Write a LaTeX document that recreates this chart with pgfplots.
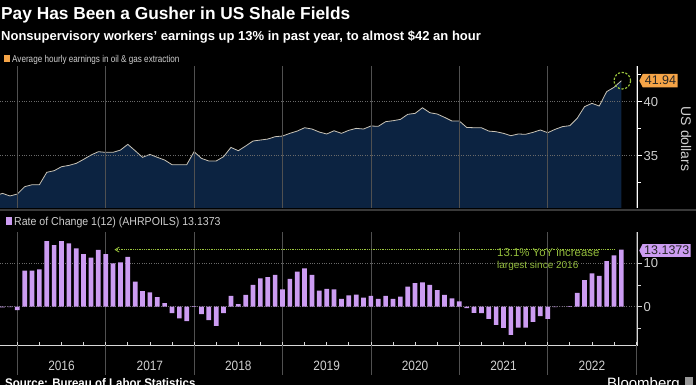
\documentclass[border=0pt]{standalone}
\usepackage{pgfplots}
\pgfplotsset{compat=1.18}
\usepackage{pgfplotstable}
\usepackage{fontspec}
\usetikzlibrary{arrows.meta}
\setmainfont{Liberation Sans}
\newfontfamily\condfont{Liberation Sans}[FakeStretch=0.92]
\newfontfamily\legfont{Liberation Sans}[FakeStretch=0.82]
\newfontfamily\yearfont{Liberation Sans}[FakeStretch=0.88]
\definecolor{navyfill}{HTML}{0C2341}
\definecolor{lineclr}{HTML}{C9C3B6}
\definecolor{barclr}{HTML}{CC9CF2}
\definecolor{orangeb}{HTML}{F5A447}
\definecolor{greenA}{HTML}{9BC53D}
\definecolor{greenT}{HTML}{93BC3C}
\definecolor{gridc}{HTML}{505050}
\definecolor{gridd}{HTML}{6A6A6A}
\definecolor{axc}{HTML}{D8D8D8}
\definecolor{txtc}{HTML}{CFCFCF}

\pgfplotstableread{
m v
-3 31.30
-2 31.51
-1 31.27
0 31.45
1 32.13
2 32.31
3 32.31
4 33.46
5 33.61
6 33.98
7 34.10
8 34.29
9 34.66
10 35.06
11 35.37
12 35.31
13 35.31
14 35.52
15 36.05
16 35.46
17 34.85
18 35.12
19 34.85
20 34.60
21 34.17
22 34.17
23 34.17
24 35.37
25 34.75
26 34.51
27 34.51
28 34.91
29 35.77
30 35.46
31 35.90
32 36.36
33 36.45
34 36.54
35 36.76
36 36.82
37 37.07
38 37.28
39 37.59
40 37.47
41 37.19
42 37.01
43 37.31
44 37.07
45 37.35
46 37.53
47 37.47
48 37.75
49 37.72
50 38.15
51 38.24
52 38.36
53 38.83
54 38.92
55 39.44
56 38.98
57 38.86
58 38.55
59 38.21
60 38.21
61 37.62
62 37.59
63 37.59
64 37.28
65 37.22
66 37.07
67 36.85
68 37.01
69 36.98
70 37.16
71 37.38
72 37.13
73 37.44
74 37.69
75 37.78
76 38.46
77 39.54
78 39.85
79 39.60
80 40.93
81 41.33
82 41.94
}\earnings

\pgfplotstableread{
m v
-2 -0.15
-1 -0.12
0 -0.8
1 8.3
2 8.3
3 8.6
4 15.1
5 14.2
6 15.1
7 14.6
8 13.4
9 12.1
10 11.3
11 13.1
12 12.1
13 10.0
14 10.2
15 11.5
16 5.8
17 3.6
18 3.3
19 2.2
20 0.8
21 -1.5
22 -2.7
23 -3.3
24 0.12
25 -1.7
26 -3.1
27 -4.4
28 -1.5
29 2.5
30 0.6
31 2.7
32 5.0
33 6.5
34 6.8
35 7.3
36 4.0
37 6.4
38 8.1
39 8.8
40 7.3
41 3.7
42 4.1
43 4.0
44 1.8
45 2.6
46 2.8
47 2.1
48 2.5
49 1.8
50 2.5
51 1.8
52 2.3
53 4.6
54 5.4
55 5.6
56 5.0
57 3.8
58 2.7
59 1.9
60 1.2
61 -0.35
62 -1.4
63 -1.5
64 -2.8
65 -4.2
66 -4.9
67 -6.5
68 -4.8
69 -4.8
70 -3.5
71 -2.2
72 -2.8
73 -0.12
74 0.0
75 0.15
76 3.2
77 6.1
78 7.7
79 7.1
80 10.5
81 11.8
82 13.1373
}\roc

\begin{document}
\begin{tikzpicture}[x=1pt,y=1pt]
\fill[black] (0,0) rectangle (696,385);
\path[use as bounding box] (0,0) rectangle (696,385);

% titles
\node[anchor=base west, inner sep=0, text=white] at (1,365) {\fontsize{17.3}{17.3}\selectfont\bfseries Pay Has Been a Gusher in US Shale Fields};
\node[anchor=base west, inner sep=0, text=white] at (1,344.5) {\fontsize{13}{13}\selectfont\bfseries Nonsupervisory workers' earnings up 13\% in past year, to almost \$42 an hour};

% legend 1
\fill[orangeb] (4,322.7) rectangle (10,329.7);
\node[anchor=base west, inner sep=0, text=txtc] at (12,322.5) {\legfont\fontsize{9.9}{9.9}\selectfont Average hourly earnings in oil \& gas extraction};

% top panel
\begin{axis}[
  at={(0pt,177pt)}, anchor=south west, scale only axis,
  width=637.5pt, height=142pt,
  xmin=-2.348, xmax=84.19, ymin=30.157, ymax=43.306,
  axis y line*=right, axis x line*=bottom,
  x axis line style={draw=none},
  y axis line style={white, line width=0.9pt},
  xtick={0,12,...,84}, xticklabels={}, xtick style={draw=none},
  xmajorgrids, x grid style={gridc, line width=0.7pt},
  ytick={35,40}, minor ytick={32.5,37.5,42.5},
  ymajorgrids, y grid style={gridd, dotted, line width=0.7pt},
  ytick style={white, line width=0.8pt},
  tick align=outside, major tick length=4pt, minor tick length=3pt,
  /pgf/number format/assume math mode=true,
  yticklabel style={text=txtc, font=\fontsize{13}{13}\selectfont, xshift=-1.5pt},
  axis on top,
]
\addplot[draw=none, fill=navyfill] table[x=m, y=v] {\earnings} \closedcycle;
\addplot[draw=lineclr, line width=0.8pt] table[x=m, y=v] {\earnings};
\end{axis}

\node[rotate=-90, text=txtc, inner sep=0] at (686,246) {\fontsize{14}{14}\selectfont US dollars};

% separator
\fill[gray!45!black] (0,174.2) rectangle (696,176.2);

% legend 2
\fill[barclr] (5.7,160) rectangle (11.7,168.3);
\node[anchor=base west, inner sep=0, text=txtc] at (14,159.3) {\condfont\fontsize{11.5}{11.5}\selectfont Rate of Change 1(12) (AHRPOILS) 13.1373};

% bottom panel
\begin{axis}[
  at={(0pt,40pt)}, anchor=south west, scale only axis,
  width=637.5pt, height=113pt,
  xmin=-2.348, xmax=84.19, ymin=-8.82, ymax=17.2,
  axis y line*=right, axis x line*=bottom,
  x axis line style={axc, line width=0.8pt},
  y axis line style={axc, line width=0.8pt},
  xtick={0,12,...,84}, xticklabels={}, xtick style={draw=none},
  xmajorgrids, x grid style={gridc, line width=0.7pt},
  extra x ticks={6,18,30,42,54,66,78},
  extra x tick labels={2016,2017,2018,2019,2020,2021,2022},
  extra x tick style={grid=none, tick style={draw=none}, tick label style={text=txtc, font=\yearfont\fontsize{13.5}{13.5}\selectfont, yshift=-9pt}},
  ytick={0,10}, minor ytick={-5,5},
  ymajorgrids, y grid style={gridd, dotted, line width=0.7pt},
  ytick style={axc, line width=0.8pt},
  tick align=outside, major tick length=4pt, minor tick length=3pt,
  /pgf/number format/assume math mode=true,
  yticklabel style={text=txtc, font=\fontsize{13}{13}\selectfont, xshift=-1.5pt},
  clip mode=individual,
]
\addplot[ybar, bar width=4.7pt, fill=barclr, draw=none] table[x=m, y=v] {\roc};
\draw[greenA, line width=0.9pt, dash pattern=on 0.9pt off 0.9pt] (axis cs:13.3,13.1373) -- (axis cs:81,13.1373);
\draw[greenA, line width=0.8pt] (axis cs:13.3,13.1373) ++(4pt,2.5pt) -- ++(-4pt,-2.5pt) -- ++(4pt,-2.5pt);
\end{axis}

% year boundary lines below axis and quarter ticks
\foreach \k in {0,...,7} \draw[gridc, line width=0.7pt] ({17.3+88.404*\k},40) -- ++(0,-30);
\foreach \q in {0,...,28} \draw[axc, line width=0.7pt] ({17.3+22.101*\q},40) -- ++(0,3);

% annotation
\node[anchor=base west, inner sep=0, text=greenT, align=left] at (497,116.5) {\fontsize{11.4}{13.5}\selectfont 13.1\% YoY increase\\largest since 2016};

% end-point circle
\draw[greenA, line width=1.2pt, dash pattern=on 2.2pt off 1.6pt] (622.3,304.3) circle (8.3);

% value boxes
\fill[orangeb] (639.3,304.3) -- (642.8,311.1) -- (677.7,311.1) -- (677.7,297.5) -- (642.8,297.5) -- cycle;
\node[text=black!85, inner sep=0] at (660.5,304.3) {\fontsize{12.5}{12.5}\selectfont 41.94};
\fill[barclr] (639.3,134.5) -- (642.5,140.8) -- (690.7,140.8) -- (690.7,128.2) -- (642.5,128.2) -- cycle;
\node[text=black!85, inner sep=0] at (666.8,134.5) {\fontsize{12.5}{12.5}\selectfont 13.1373};

% footer
\node[anchor=base west, inner sep=0, text=white] at (5,-2.5) {\condfont\fontsize{12.5}{12.5}\selectfont\bfseries Source: Bureau of Labor Statistics};
\node[anchor=base west, inner sep=0, text=white] at (607,-3.5) {\fontsize{15}{15}\selectfont Bloomberg};
\fill[gray!80] (685,0) rectangle (693,7.5);
\end{tikzpicture}
\end{document}
